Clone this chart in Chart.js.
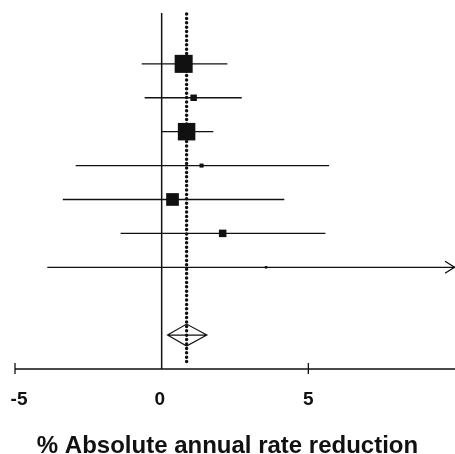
<!DOCTYPE html>
<html>
<head>
    <meta charset="utf-8">
    <script src="https://cdn.jsdelivr.net/npm/chart.js@4.4.0/dist/chart.umd.min.js"></script>
    <title>Forest plot</title>
    <style>
        body { margin: 0; background: #fff; }
    </style>
</head>
<body>
<canvas id="myChart" width="455" height="454"></canvas>

<script>
    // data (one row per study, top to bottom)
    var studies   = ['Study 1', 'Study 2', 'Study 3', 'Study 4', 'Study 5', 'Study 6', 'Study 7'];
    var estimates = [0.75, 1.09, 0.85, 1.36, 0.37, 2.08, 3.56];
    var lower     = [-0.68, -0.58, 0.0, -2.93, -3.37, -1.40, -3.90];
    var upper     = [2.24, 2.73, 1.76, 5.71, 4.18, 5.58, 12.0];
    var weights   = [35.6, 4.6, 33.6, 1.8, 17.7, 6.2, 0.7];

    // pooled estimate
    var pooled = [0.85];
    var pooledLower = [0.20];
    var pooledUpper = [1.54];

    var xTicks = [-5, 0, 5];
    var xTitle = '% Absolute annual rate reduction';

    var ink = '#111';
    var font = 'Liberation Sans, Arial, sans-serif';

    var points = [];
    for (var i = 0; i < studies.length; i++) {
        points.push({ x: estimates[i], y: i + 1 });
    }
    var pooledRow = studies.length + 2;

    // whiskers, reference lines, diamond and the axis
    var forestPlugin = {
        id: 'forest',
        beforeDatasetsDraw: function(chart) {
            var ctx = chart.ctx;
            var xs = chart.scales.x, ys = chart.scales.y;
            var area = chart.chartArea;
            ctx.save();
            ctx.strokeStyle = ink;

            // line of no effect
            ctx.lineWidth = 1.5;
            ctx.beginPath();
            ctx.moveTo(xs.getPixelForValue(0), area.top);
            ctx.lineTo(xs.getPixelForValue(0), area.bottom);
            ctx.stroke();

            // confidence intervals
            ctx.lineWidth = 1.3;
            for (var i = 0; i < studies.length; i++) {
                var y = ys.getPixelForValue(i + 1);
                var x1 = xs.getPixelForValue(Math.max(lower[i], xs.min));
                var x2 = xs.getPixelForValue(Math.min(upper[i], xs.max));
                ctx.beginPath();
                ctx.moveTo(x1, y);
                ctx.lineTo(x2, y);
                ctx.stroke();
                if (upper[i] > xs.max) {
                    ctx.beginPath();
                    ctx.moveTo(x2 - 10, y - 6);
                    ctx.lineTo(x2 - 0.5, y);
                    ctx.lineTo(x2 - 10, y + 6);
                    ctx.stroke();
                }
            }

            // pooled diamond
            var py = ys.getPixelForValue(pooledRow);
            var pl = xs.getPixelForValue(pooledLower[0]);
            var pr = xs.getPixelForValue(pooledUpper[0]);
            var pc = xs.getPixelForValue(pooled[0]);
            ctx.lineWidth = 1.2;
            ctx.beginPath();
            ctx.moveTo(pl, py);
            ctx.lineTo(pc, py - 11);
            ctx.lineTo(pr, py);
            ctx.lineTo(pc, py + 11);
            ctx.closePath();
            ctx.moveTo(pl, py);
            ctx.lineTo(pr, py);
            ctx.stroke();

            // dotted line at the pooled estimate
            ctx.lineWidth = 3.5;
            ctx.lineCap = 'round';
            ctx.setLineDash([0, 4.4]);
            ctx.beginPath();
            ctx.moveTo(pc, area.top + 1);
            ctx.lineTo(pc, area.bottom - 3);
            ctx.stroke();
            ctx.setLineDash([]);
            ctx.lineCap = 'butt';

            // x axis with crossing ticks
            ctx.lineWidth = 1.3;
            ctx.beginPath();
            ctx.moveTo(area.left, area.bottom);
            ctx.lineTo(area.right, area.bottom);
            xTicks.forEach(function(t) {
                if (t === 0) return;
                var tx = xs.getPixelForValue(t);
                ctx.moveTo(tx, area.bottom - 6);
                ctx.lineTo(tx, area.bottom + 5);
            });
            ctx.stroke();

            // tick labels and axis title
            ctx.fillStyle = ink;
            ctx.textAlign = 'center';
            ctx.textBaseline = 'alphabetic';
            ctx.font = 'bold 19px ' + font;
            xTicks.forEach(function(t) {
                var lx = xs.getPixelForValue(t);
                if (t < 0) lx += 4;
                if (t === 0) lx -= 2;
                ctx.fillText(String(t), lx, area.bottom + 36);
            });
            ctx.font = 'bold 24px ' + font;
            ctx.fillText(xTitle, chart.width / 2, 453);
            ctx.restore();
        }
    };

    var config = {
        type: 'scatter',
        data: {
            datasets: [{
                label: 'Studies',
                data: points,
                pointStyle: 'rect',
                backgroundColor: ink,
                borderWidth: 0,
                clip: false,
                pointRadius: function(c) {
                    var side = 3.02 * Math.sqrt(weights[c.dataIndex]);
                    return side / Math.SQRT2;
                }
            }]
        },
        options: {
            responsive: false,
            animation: false,
            events: [],
            layout: {
                autoPadding: false,
                padding: { left: 15, right: 0, top: 13, bottom: 85 }
            },
            plugins: {
                legend: { display: false },
                tooltip: { enabled: false }
            },
            scales: {
                x: {
                    type: 'linear',
                    display: false,
                    min: -5,
                    max: 10
                },
                y: {
                    type: 'linear',
                    display: false,
                    reverse: true,
                    min: -0.5,
                    max: 10
                }
            }
        },
        plugins: [forestPlugin]
    };

    var myChart = new Chart(document.getElementById('myChart'), config);
</script>
</body>
</html>
